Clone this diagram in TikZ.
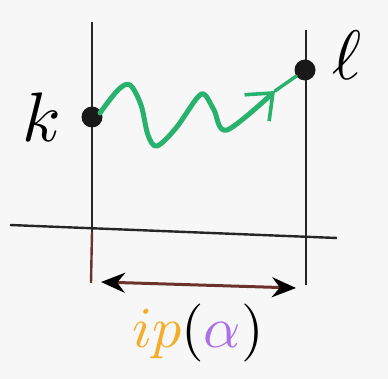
\documentclass[tikz,border=0pt]{standalone}
\usepackage{tikz}
\usetikzlibrary{arrows.meta, positioning, calc}
\definecolor{cGreen}{RGB}{40,178,110}
\definecolor{cOrange}{RGB}{245,172,40}
\definecolor{cPurple}{RGB}{172,112,232}
\definecolor{cBrown}{RGB}{110,50,45}
\colorlet{cInk}{black!85}
\begin{document}
\begin{tikzpicture}[x=1pt, y=-1pt,
    pen/.style={line width=2.4pt, color=cInk},
    dot/.style={circle, fill=black!90, inner sep=0pt, minimum size=21pt},
    lbl/.style={scale=7, inner sep=0pt},
    wave/.style={line width=5pt, color=cGreen, line cap=round, line join=round}]
  \useasboundingbox[fill=black!3] (0,0) rectangle (388,379);
  % Achsen und Linien
  \coordinate (ltop) at (92,22);
  \coordinate (lbot) at (91,283);
  \coordinate (lmid) at (92,232);
  \coordinate (rtop) at (306,30);
  \coordinate (rbot) at (306,285);
  \coordinate (axl) at (10,225);
  \coordinate (axr) at (337,238);
  \draw[pen] (axl) -- (axr);
  \draw[pen] (ltop) -- (lmid);
  \draw[line width=2.4pt, cBrown] (lmid) -- (lbot);
  \draw[pen] (rtop) -- (rbot);
  % Punkte k und l
  \node[dot] (k) at (92,117) {};
  \node[dot] (l) at (305,70) {};
  \node[lbl] (klbl) at (42,117) {$k$};
  \node[lbl] (llbl) at (347,55) {$\ell$};
  % Welle
  \coordinate (tip) at (275,91);
  \draw[wave, -{Straight Barb[length=22pt, width=36pt, line width=3.6pt]}]
    plot[smooth, tension=0.55] coordinates {(100,113) (118,90) (130,85) (141,105) (148,135)
      (157,146) (176,128) (197,98) (205,95) (214,110) (227,130) (tip)};
  \draw[wave, line width=3.4pt] (tip) -- (l);
  % Doppelpfeil
  \coordinate (al) at (101,282);
  \coordinate (ar) at (296,288);
  \draw[line width=3pt, cBrown,
    {Stealth[length=24pt, width=20pt, black]}-{Stealth[length=24pt, width=20pt, black]}] (al) -- (ar);
  % Beschriftung
  \node[scale=5.8, inner sep=0pt] (iplbl) at (198,333)
    {$\textcolor{cOrange}{ip}($\textcolor{cPurple}{$\alpha$}$)$};
\end{tikzpicture}
\end{document}
